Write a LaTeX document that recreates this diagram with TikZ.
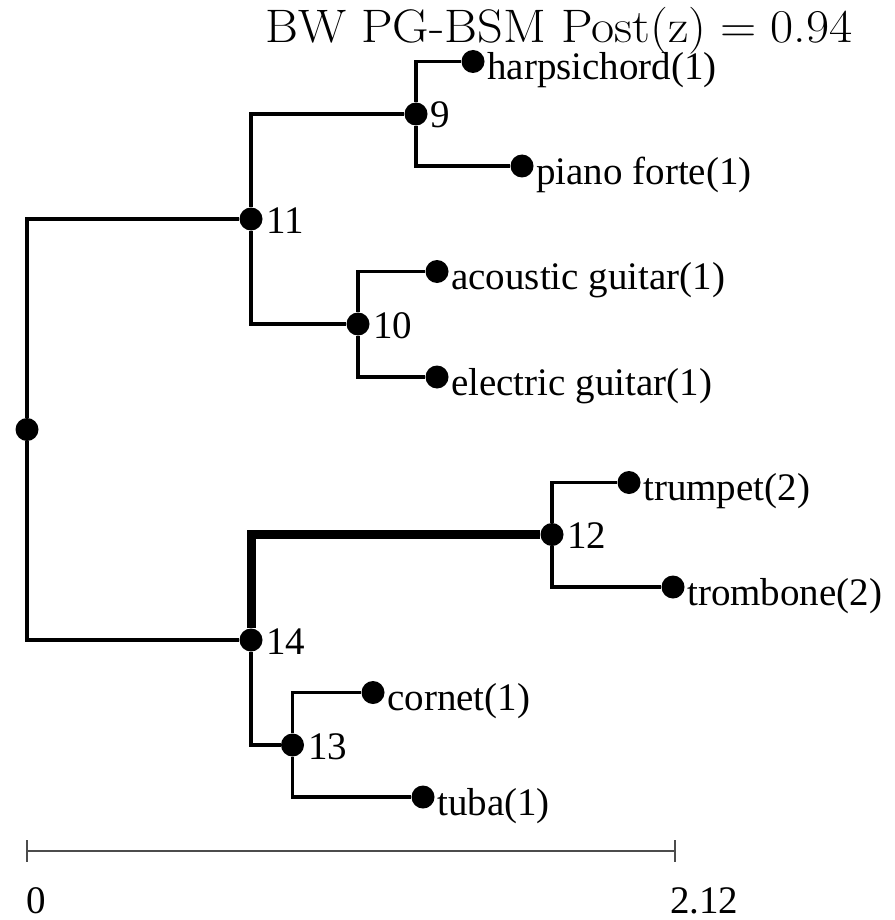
\documentclass[tikz,border=0pt]{standalone}
\usepackage{fontspec}
\newfontfamily\labfont{Liberation Serif}
\begin{document}
\begin{tikzpicture}[x=1pt,y=-1pt,
  dot/.style={circle,fill=black,draw=none,inner sep=0pt,minimum size=23pt},
  edge/.style={draw=black,line width=3.2pt},
  thickedge/.style={draw=black,line width=9pt},
  leaflab/.style={anchor=base west,inner sep=0pt,font=\labfont\fontsize{39}{41}\selectfont},
  numlab/.style={anchor=base west,inner sep=0pt,font=\labfont\fontsize{39}{41}\selectfont},
  scalelab/.style={anchor=base west,inner sep=0pt,font=\labfont\fontsize{39}{41}\selectfont}]
\useasboundingbox (0,0) rectangle (894,920);
% title
\node[anchor=base west,inner sep=0pt,font=\fontsize{47}{50}\selectfont,xscale=1.07] (title) at (265,43) {BW PG-BSM Post(z)\hspace{0.28em}=\hspace{0.28em}0.94};
% tree nodes
\node[dot] (r) at (27,429.5) {};
\node[dot] (n11) at (251,219) {};
\node[dot] (n9) at (416,114) {};
\node[dot] (h) at (473,61.5) {};
\node[dot] (pf) at (522,166) {};
\node[dot] (n10) at (358,324) {};
\node[dot] (ag) at (437,271.5) {};
\node[dot] (eg) at (437,377) {};
\node[dot] (n14) at (251,640) {};
\node[dot] (n12) at (552,534.5) {};
\node[dot] (tp) at (629,482.5) {};
\node[dot] (tb) at (673,587) {};
\node[dot] (n13) at (292.5,745) {};
\node[dot] (co) at (373,692.5) {};
\node[dot] (tu) at (423,797) {};
% edges
\draw[edge] (r) |- (n11);
\draw[edge] (r) |- (n14);
\draw[edge] (n11) |- (n9);
\draw[edge] (n11) |- (n10);
\draw[edge] (n9) |- (h);
\draw[edge] (n9) |- (pf);
\draw[edge] (n10) |- (ag);
\draw[edge] (n10) |- (eg);
\draw[thickedge] (n14) |- (n12);
\draw[edge] (n14) |- (n13);
\draw[edge] (n12) |- (tp);
\draw[edge] (n12) |- (tb);
\draw[edge] (n13) |- (co);
\draw[edge] (n13) |- (tu);
% leaf labels
\node[leaflab] (lh) at (487,80) {harpsichord(1)};
\node[leaflab] (lpf) at (536,184) {piano forte(1)};
\node[leaflab] (lag) at (451,289.5) {acoustic guitar(1)};
\node[leaflab] (leg) at (451,395) {electric guitar(1)};
\node[leaflab] (ltp) at (643,500.5) {trumpet(2)};
\node[leaflab] (ltb) at (687,605) {trombone(2)};
\node[leaflab] (lco) at (387,710.5) {cornet(1)};
\node[leaflab] (ltu) at (437,815) {tuba(1)};
% internal labels
\node[numlab] (l9) at (430,128) {9};
\node[numlab] (l11) at (266,233) {11};
\node[numlab] (l10) at (373,338) {10};
\node[numlab] (l14) at (266,654) {14};
\node[numlab] (l12) at (567,548.5) {12};
\node[numlab] (l13) at (308,759) {13};
% scale bar
\coordinate (s0) at (27,851);
\coordinate (s1) at (675,851);
\draw[line width=1.8pt,black!70] (s0) -- (s1);
\draw[line width=1.8pt,black!70] (27,840) -- (27,862);
\draw[line width=1.8pt,black!70] (675,840) -- (675,862);
\node[scalelab] (z0) at (26,913) {0};
\node[scalelab] (z1) at (670,913) {2.12};
\end{tikzpicture}
\end{document}
